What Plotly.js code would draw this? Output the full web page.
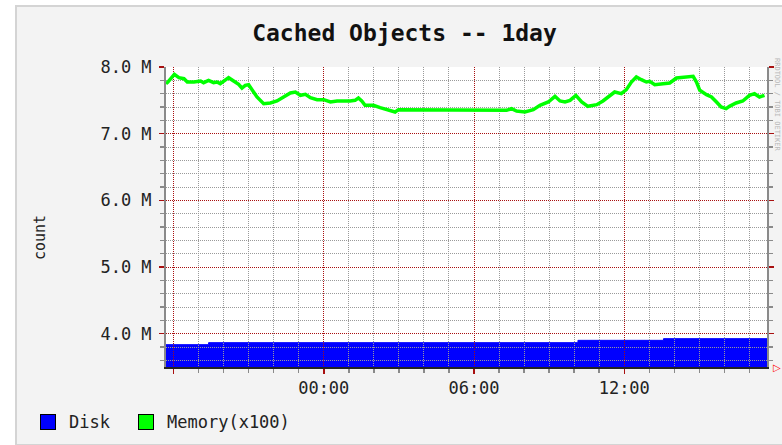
<!DOCTYPE html>
<html>
<head>
<meta charset="utf-8">
<script src="https://cdn.plot.ly/plotly-3.0.1.min.js"></script>
<style>
  html, body { margin: 0; padding: 0; background: #ffffff; }
  #panel { position: absolute; left: 15px; top: 5px; width: 780px; height: 437px;
           background: #f3f3f3; border: 2px solid #d4d4d4; }
  #chart { position: absolute; left: 0; top: 0; width: 782px; height: 445px; }
</style>
</head>
<body>
<div id="panel"></div>
<div id="chart"></div>
<script>
// ---- data ----
const chartTitle = 'Cached Objects -- 1day';
const yLabel = 'count';
const seriesNames = ['Disk', 'Memory(x100)'];

const diskTimes = ['2024-01-01 17:42', '2024-01-01 19:24', '2024-01-02 10:09', '2024-01-02 13:34', '2024-01-02 17:42'];
const diskValues = [3835000, 3865000, 3900000, 3925000, 3925000];

const memTimes = [
  '2024-01-01 17:42','2024-01-01 17:46','2024-01-01 18:02','2024-01-01 18:13','2024-01-01 18:25',
  '2024-01-01 18:33','2024-01-01 18:49','2024-01-01 19:05','2024-01-01 19:12','2024-01-01 19:24',
  '2024-01-01 19:36','2024-01-01 19:44','2024-01-01 19:52','2024-01-01 20:04','2024-01-01 20:12',
  '2024-01-01 20:24','2024-01-01 20:36','2024-01-01 20:44','2024-01-01 20:52','2024-01-01 21:00',
  '2024-01-01 21:08','2024-01-01 21:20','2024-01-01 21:36','2024-01-01 21:52','2024-01-01 22:08',
  '2024-01-01 22:24','2024-01-01 22:40','2024-01-01 22:52','2024-01-01 23:04','2024-01-01 23:16',
  '2024-01-01 23:28','2024-01-01 23:44','2024-01-02 00:00','2024-01-02 00:16','2024-01-02 00:32',
  '2024-01-02 01:03','2024-01-02 01:15','2024-01-02 01:23','2024-01-02 01:31','2024-01-02 01:39',
  '2024-01-02 01:59','2024-01-02 02:15','2024-01-02 02:31','2024-01-02 02:51','2024-01-02 02:59',
  '2024-01-02 05:03','2024-01-02 07:18','2024-01-02 07:30','2024-01-02 07:42','2024-01-02 08:02',
  '2024-01-02 08:22','2024-01-02 08:38','2024-01-02 08:58','2024-01-02 09:14','2024-01-02 09:26',
  '2024-01-02 09:38','2024-01-02 09:50','2024-01-02 10:04','2024-01-02 10:18','2024-01-02 10:33',
  '2024-01-02 10:54','2024-01-02 11:09','2024-01-02 11:21','2024-01-02 11:37','2024-01-02 11:53',
  '2024-01-02 12:05','2024-01-02 12:17','2024-01-02 12:29','2024-01-02 12:41','2024-01-02 12:53',
  '2024-01-02 13:01','2024-01-02 13:13','2024-01-02 13:33','2024-01-02 13:49','2024-01-02 14:05',
  '2024-01-02 14:25','2024-01-02 14:45','2024-01-02 14:53','2024-01-02 15:01','2024-01-02 15:17',
  '2024-01-02 15:29','2024-01-02 15:41','2024-01-02 15:52','2024-01-02 16:04','2024-01-02 16:12',
  '2024-01-02 16:28','2024-01-02 16:44','2024-01-02 17:00','2024-01-02 17:12','2024-01-02 17:24',
  '2024-01-02 17:36'
];
const memValues = [
  7750000,7770000,7890000,7840000,7825000,
  7775000,7775000,7790000,7765000,7800000,
  7765000,7775000,7750000,7810000,7840000,
  7790000,7740000,7685000,7725000,7735000,
  7660000,7550000,7450000,7460000,7490000,
  7550000,7610000,7625000,7575000,7590000,
  7540000,7510000,7510000,7475000,7490000,
  7490000,7500000,7535000,7490000,7425000,
  7425000,7390000,7360000,7325000,7360000,
  7355000,7350000,7375000,7340000,7325000,
  7360000,7425000,7475000,7560000,7490000,
  7475000,7500000,7575000,7475000,7410000,
  7435000,7490000,7550000,7625000,7600000,
  7660000,7775000,7850000,7810000,7775000,
  7785000,7735000,7750000,7760000,7835000,
  7850000,7860000,7775000,7650000,7585000,
  7550000,7475000,7400000,7375000,7410000,
  7460000,7490000,7575000,7600000,7550000,
  7575000
];

const xRange = ['2024-01-01 17:42', '2024-01-02 17:42'];
const xTickVals = ['2024-01-01 18:00', '2024-01-02 00:00', '2024-01-02 06:00', '2024-01-02 12:00'];
const xTickText = ['', '00:00', '06:00', '12:00'];
const yRange = [3500000, 8000000];
const yTickVals = [4000000, 5000000, 6000000, 7000000, 8000000];
const yTickText = ['4.0 M', '5.0 M', '6.0 M', '7.0 M', '8.0 M'];

// ---- styles ----
const mono = 'DejaVu Sans Mono, monospace';
const majorGrid = '#a81010';
const minorGrid = '#9a9a9a';
const dots = '1px,1px';

const traces = [
  {
    x: diskTimes, y: diskValues, name: seriesNames[0], type: 'scatter', mode: 'lines',
    line: { shape: 'hv', color: '#0000ff', width: 1 }, fill: 'tozeroy', fillcolor: '#0000ff',
    xaxis: 'x', yaxis: 'y', showlegend: false, hoverinfo: 'skip'
  },
  {
    x: memTimes, y: memValues, name: seriesNames[1], type: 'scatter', mode: 'lines',
    line: { color: '#00ff00', width: 3.5 },
    xaxis: 'x2', yaxis: 'y2', showlegend: false, hoverinfo: 'skip'
  }
];

function px2x(px) { return (px - 166) / 601; }
function px2y(py) { return (367 - py) / 300; }

const layout = {
  width: 782, height: 445,
  margin: { l: 166, r: 15, t: 67, b: 78, pad: 0 },
  paper_bgcolor: 'rgba(0,0,0,0)',
  plot_bgcolor: 'rgba(0,0,0,0)',
  showlegend: false,
  title: {
    text: '<b>' + chartTitle + '</b>',
    font: { family: mono, size: 23, color: '#111' },
    xref: 'container', yref: 'container', x: 404.5 / 782, y: 1 - 33 / 445,
    xanchor: 'center', yanchor: 'middle'
  },
  xaxis: { type: 'date', range: xRange, domain: [0, 1], visible: false, fixedrange: true },
  yaxis: { range: yRange, domain: [0, 1], visible: false, fixedrange: true },
  xaxis2: {
    type: 'date', range: xRange, domain: [0, 1], anchor: 'y2',
    tickmode: 'array', tickvals: xTickVals, ticktext: xTickText,
    showgrid: true, gridcolor: majorGrid, gridwidth: 1, griddash: dots,
    ticks: 'outside', ticklen: 5, tickcolor: majorGrid, tickwidth: 1.5,
    showline: true, linecolor: '#222', linewidth: 1.5,
    tickfont: { family: mono, size: 17, color: '#222' },
    ticklabelstandoff: 0,
    zeroline: false, fixedrange: true,
    minor: {
      tickmode: 'linear', tick0: '2024-01-01 18:00', dtick: 3600000,
      showgrid: true, gridcolor: minorGrid, gridwidth: 1, griddash: dots,
      ticks: 'outside', ticklen: 4, tickcolor: '#8a8a8a', tickwidth: 1.5
    }
  },
  yaxis2: {
    range: yRange, domain: [0, 1], anchor: 'x2',
    tickmode: 'array', tickvals: yTickVals, ticktext: yTickText,
    showgrid: true, gridcolor: majorGrid, gridwidth: 1, griddash: dots,
    ticks: 'outside', ticklen: 5, tickcolor: majorGrid, tickwidth: 1.5,
    showline: true, linecolor: '#8a8a8a', linewidth: 2, mirror: 'ticks',
    tickfont: { family: mono, size: 17, color: '#222' },
    ticklabelstandoff: 4,
    zeroline: false, fixedrange: true,
    minor: {
      tickmode: 'linear', tick0: 0, dtick: 200000,
      showgrid: true, gridcolor: minorGrid, gridwidth: 1, griddash: dots,
      ticks: 'outside', ticklen: 4, tickcolor: '#8a8a8a', tickwidth: 1.5
    }
  },
  shapes: [
    { type: 'rect', xref: 'paper', yref: 'paper', x0: 0, x1: 1, y0: 0, y1: 1,
      fillcolor: '#ffffff', line: { width: 0 }, layer: 'below' }
  ],
  annotations: [
    { text: yLabel, xref: 'paper', yref: 'paper', x: px2x(40), y: px2y(238),
      textangle: -90, showarrow: false, xanchor: 'center', yanchor: 'middle',
      font: { family: mono, size: 15, color: '#222' } },
    { text: ' ', xref: 'paper', yref: 'paper', x: px2x(47.5), y: px2y(421.5),
      width: 14, height: 14, borderpad: 0, borderwidth: 1, bordercolor: '#000',
      bgcolor: '#0000ff', showarrow: false, xanchor: 'center', yanchor: 'middle' },
    { text: seriesNames[0], xref: 'paper', yref: 'paper', x: px2x(67), y: px2y(421.5),
      showarrow: false, xanchor: 'left', yanchor: 'middle',
      font: { family: mono, size: 17, color: '#222' } },
    { text: ' ', xref: 'paper', yref: 'paper', x: px2x(146), y: px2y(421.5),
      width: 14, height: 14, borderpad: 0, borderwidth: 1, bordercolor: '#000',
      bgcolor: '#00ff00', showarrow: false, xanchor: 'center', yanchor: 'middle' },
    { text: seriesNames[1], xref: 'paper', yref: 'paper', x: px2x(165), y: px2y(421.5),
      showarrow: false, xanchor: 'left', yanchor: 'middle',
      font: { family: mono, size: 17, color: '#222' } },
    { text: '▷', xref: 'paper', yref: 'paper', x: px2x(777), y: px2y(367),
      showarrow: false, xanchor: 'center', yanchor: 'middle',
      font: { family: 'DejaVu Sans', size: 10, color: '#ff0000' } },
    { text: 'RRDTOOL / TOBI OETIKER', xref: 'paper', yref: 'paper', x: px2x(777), y: px2y(105),
      textangle: 90, showarrow: false, xanchor: 'center', yanchor: 'middle',
      font: { family: mono, size: 7, color: '#b8b8b8' } }
  ]
};

Plotly.newPlot('chart', traces, layout, { staticPlot: true, displayModeBar: false });
</script>
</body>
</html>
